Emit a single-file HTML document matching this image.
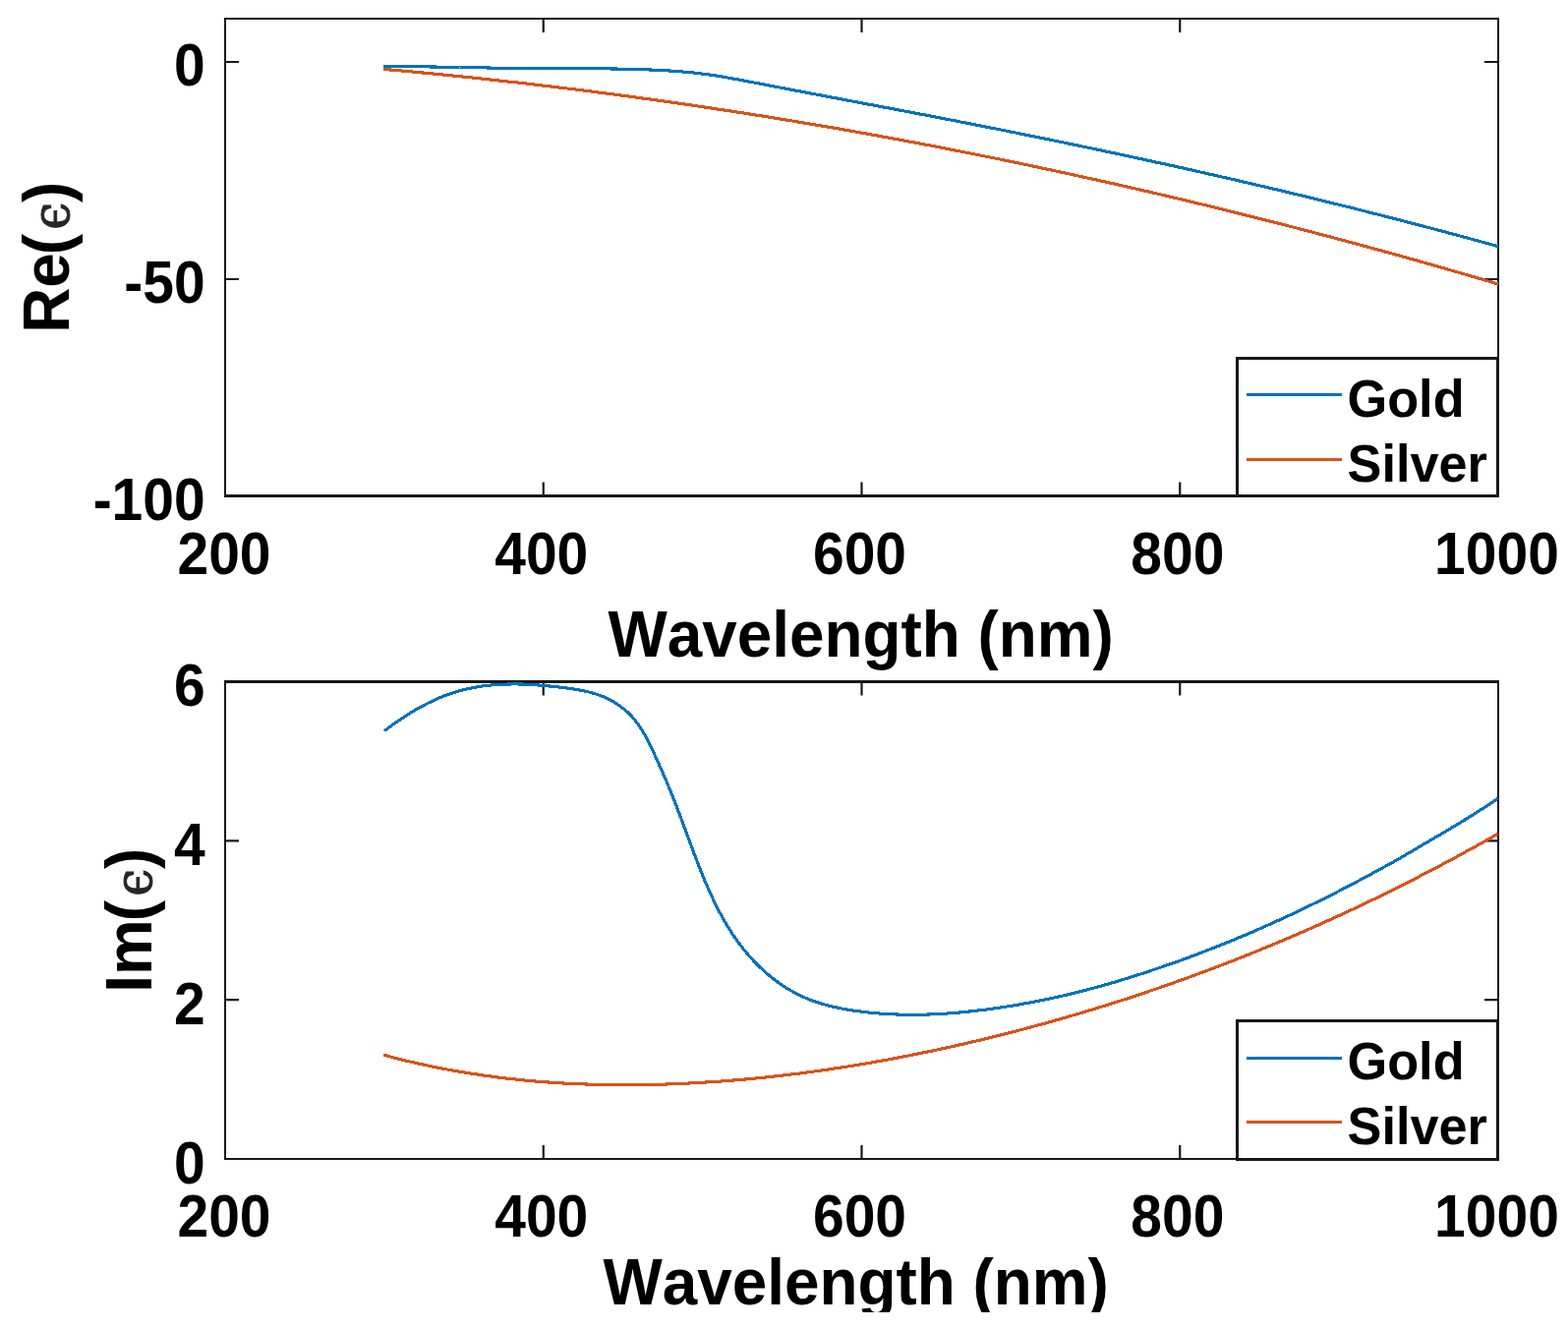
<!DOCTYPE html>
<html><head><meta charset="utf-8"><title>Permittivity of Gold and Silver</title>
<style>
html,body{margin:0;padding:0;background:#fff;overflow:hidden}
svg{display:block}
text{font-family:"Liberation Sans",Arial,Helvetica,sans-serif;font-weight:bold;fill:#000;font-kerning:none;font-feature-settings:"kern" 0,"liga" 0}
</style></head><body>
<svg width="1595" height="1352" viewBox="0 0 1595 1352">
<rect width="1595" height="1352" fill="#fff"/>
<path d="M552.75,504.50V490.50M552.75,19.00V33.00M876.50,504.50V490.50M876.50,19.00V33.00M1200.25,504.50V490.50M1200.25,19.00V33.00M229.0,63.00H243.0M1524.0,63.00H1510.0M229.0,284.00H243.0M1524.0,284.00H1510.0" stroke="#181818" stroke-width="2.2" fill="none"/>
<path d="M228.0,19.00H1525.0" stroke="#181818" stroke-width="2.0"/>
<path d="M228.0,504.50H1525.0" stroke="#181818" stroke-width="3.0"/>
<path d="M229.0,18.00V506.00M1524.0,18.00V506.00" stroke="#181818" stroke-width="2.0"/>
<clipPath id="c19"><rect x="229.0" y="19.0" width="1295.0" height="485.5"/></clipPath>
<g clip-path="url(#c19)"><path d="M390.0,67.6C391.6,67.6 396.5,67.6 399.7,67.6C402.9,67.6 406.2,67.6 409.4,67.6C412.6,67.7 415.9,67.7 419.1,67.7C422.3,67.8 425.6,67.8 428.8,67.8C432.0,67.9 435.2,67.9 438.5,68.0C441.7,68.0 444.9,68.1 448.2,68.1C451.4,68.2 454.6,68.2 457.9,68.3C461.1,68.3 464.3,68.4 467.5,68.5C470.8,68.5 474.0,68.6 477.2,68.6C480.5,68.7 483.7,68.8 486.9,68.8C490.1,68.9 493.4,68.9 496.6,69.0C499.8,69.1 503.1,69.1 506.3,69.2C509.5,69.2 512.8,69.3 516.0,69.3C519.2,69.4 522.4,69.4 525.7,69.4C528.9,69.5 532.1,69.5 535.4,69.5C538.6,69.6 541.8,69.6 545.1,69.6C548.3,69.6 551.5,69.7 554.8,69.7C558.0,69.7 561.2,69.7 564.5,69.7C567.7,69.7 570.9,69.7 574.2,69.7C577.4,69.7 580.6,69.7 583.9,69.7C587.1,69.7 590.3,69.7 593.6,69.8C596.8,69.8 600.0,69.8 603.3,69.8C606.5,69.8 609.7,69.8 613.0,69.9C616.2,69.9 619.4,69.9 622.7,70.0C625.9,70.0 629.1,70.1 632.3,70.1C635.6,70.2 638.8,70.3 642.0,70.3C645.3,70.4 648.5,70.5 651.7,70.6C655.0,70.7 658.2,70.8 661.4,71.0C664.6,71.1 667.9,71.2 671.1,71.4C674.3,71.6 677.5,71.8 680.8,72.0C684.0,72.2 687.2,72.4 690.4,72.7C693.6,72.9 696.9,73.2 700.1,73.5C703.3,73.8 706.5,74.1 709.7,74.5C712.9,74.9 716.1,75.3 719.3,75.7C722.5,76.2 725.7,76.6 728.9,77.1C732.1,77.6 735.2,78.2 738.4,78.7C741.6,79.3 744.8,79.8 748.0,80.4C751.2,81.0 754.3,81.6 757.5,82.2C760.7,82.8 763.9,83.4 767.0,84.0C770.2,84.6 773.4,85.2 776.6,85.9C779.7,86.5 782.9,87.1 786.1,87.7C789.3,88.3 792.4,88.9 795.6,89.5C798.8,90.1 801.9,90.7 805.1,91.3C808.3,91.9 811.5,92.5 814.6,93.1C817.8,93.7 821.0,94.3 824.2,94.9C827.3,95.5 830.5,96.1 833.7,96.7C836.9,97.3 840.0,97.9 843.2,98.5C846.4,99.1 849.6,99.7 852.7,100.3C855.9,100.9 859.1,101.5 862.3,102.1C865.4,102.7 868.6,103.3 871.8,103.9C875.0,104.5 878.1,105.1 881.3,105.7C884.5,106.3 887.7,106.9 890.8,107.5C894.0,108.1 897.2,108.7 900.4,109.3C903.5,109.9 906.7,110.5 909.9,111.1C913.1,111.7 916.2,112.3 919.4,112.9C922.6,113.5 925.7,114.1 928.9,114.7C932.1,115.3 935.3,115.9 938.4,116.5C941.6,117.1 944.8,117.7 948.0,118.3C951.1,118.9 954.3,119.5 957.5,120.2C960.6,120.8 963.8,121.4 967.0,122.0C970.2,122.6 973.3,123.2 976.5,123.9C979.7,124.5 982.8,125.1 986.0,125.7C989.2,126.3 992.3,127.0 995.5,127.6C998.7,128.2 1001.9,128.8 1005.0,129.5C1008.2,130.1 1011.4,130.7 1014.5,131.3C1017.7,132.0 1020.9,132.6 1024.0,133.2C1027.2,133.9 1030.4,134.5 1033.5,135.1C1036.7,135.8 1039.9,136.4 1043.0,137.1C1046.2,137.7 1049.4,138.3 1052.5,139.0C1055.7,139.6 1058.9,140.3 1062.0,140.9C1065.2,141.6 1068.4,142.2 1071.5,142.9C1074.7,143.5 1077.9,144.2 1081.0,144.8C1084.2,145.5 1087.3,146.1 1090.5,146.8C1093.7,147.4 1096.8,148.1 1100.0,148.8C1103.2,149.4 1106.3,150.1 1109.5,150.7C1112.6,151.4 1115.8,152.1 1119.0,152.7C1122.1,153.4 1125.3,154.1 1128.4,154.8C1131.6,155.4 1134.8,156.1 1137.9,156.8C1141.1,157.4 1144.2,158.1 1147.4,158.8C1150.6,159.5 1153.7,160.2 1156.9,160.8C1160.0,161.5 1163.2,162.2 1166.3,162.9C1169.5,163.6 1172.7,164.3 1175.8,165.0C1179.0,165.7 1182.1,166.4 1185.3,167.0C1188.4,167.7 1191.6,168.4 1194.7,169.1C1197.9,169.8 1201.1,170.5 1204.2,171.2C1207.4,171.9 1210.5,172.6 1213.7,173.3C1216.8,174.1 1220.0,174.8 1223.1,175.5C1226.3,176.2 1229.4,176.9 1232.6,177.6C1235.7,178.3 1238.9,179.0 1242.0,179.8C1245.2,180.5 1248.3,181.2 1251.5,181.9C1254.6,182.7 1257.8,183.4 1260.9,184.1C1264.1,184.8 1267.2,185.6 1270.3,186.3C1273.5,187.0 1276.6,187.8 1279.8,188.5C1282.9,189.2 1286.1,190.0 1289.2,190.7C1292.4,191.4 1295.5,192.2 1298.7,192.9C1301.8,193.7 1304.9,194.4 1308.1,195.2C1311.2,195.9 1314.4,196.7 1317.5,197.4C1320.6,198.2 1323.8,198.9 1326.9,199.7C1330.1,200.5 1333.2,201.2 1336.3,202.0C1339.5,202.7 1342.6,203.5 1345.8,204.3C1348.9,205.0 1352.0,205.8 1355.2,206.6C1358.3,207.4 1361.4,208.1 1364.6,208.9C1367.7,209.7 1370.8,210.5 1374.0,211.2C1377.1,212.0 1380.3,212.8 1383.4,213.6C1386.5,214.4 1389.7,215.2 1392.8,216.0C1395.9,216.8 1399.0,217.5 1402.2,218.3C1405.3,219.1 1408.4,219.9 1411.6,220.7C1414.7,221.5 1417.8,222.3 1421.0,223.1C1424.1,224.0 1427.2,224.8 1430.3,225.6C1433.5,226.4 1436.6,227.2 1439.7,228.0C1442.8,228.8 1446.0,229.6 1449.1,230.5C1452.2,231.3 1455.3,232.1 1458.5,232.9C1461.6,233.8 1464.7,234.6 1467.8,235.4C1471.0,236.2 1474.1,237.1 1477.2,237.9C1480.3,238.8 1483.4,239.6 1486.6,240.4C1489.7,241.3 1492.8,242.1 1495.9,243.0C1499.0,243.8 1502.1,244.7 1505.3,245.5C1508.4,246.4 1511.5,247.2 1514.6,248.1C1517.7,248.9 1522.4,250.2 1524.0,250.7" fill="none" stroke="#0072BD" stroke-width="3.1" stroke-linejoin="round" shape-rendering="crispEdges"/><path d="M390.0,70.4C391.6,70.5 396.5,71.0 399.7,71.2C402.9,71.5 406.2,71.8 409.4,72.1C412.6,72.4 415.8,72.7 419.1,73.0C422.3,73.3 425.5,73.6 428.7,73.9C432.0,74.2 435.2,74.5 438.4,74.8C441.6,75.1 444.9,75.5 448.1,75.8C451.3,76.1 454.5,76.4 457.8,76.7C461.0,77.1 464.2,77.4 467.4,77.7C470.7,78.0 473.9,78.4 477.1,78.7C480.3,79.0 483.6,79.4 486.8,79.7C490.0,80.1 493.2,80.4 496.5,80.8C499.7,81.1 502.9,81.4 506.1,81.8C509.3,82.2 512.6,82.5 515.8,82.9C519.0,83.2 522.2,83.6 525.4,83.9C528.7,84.3 531.9,84.7 535.1,85.0C538.3,85.4 541.5,85.8 544.8,86.2C548.0,86.5 551.2,86.9 554.4,87.3C557.6,87.7 560.8,88.1 564.1,88.5C567.3,88.8 570.5,89.2 573.7,89.6C576.9,90.0 580.1,90.4 583.4,90.8C586.6,91.2 589.8,91.6 593.0,92.0C596.2,92.4 599.4,92.8 602.7,93.2C605.9,93.6 609.1,94.1 612.3,94.5C615.5,94.9 618.7,95.3 621.9,95.7C625.2,96.2 628.4,96.6 631.6,97.0C634.8,97.4 638.0,97.9 641.2,98.3C644.4,98.7 647.6,99.2 650.8,99.6C654.1,100.0 657.3,100.5 660.5,100.9C663.7,101.4 666.9,101.8 670.1,102.3C673.3,102.7 676.5,103.2 679.7,103.6C682.9,104.1 686.1,104.5 689.4,105.0C692.6,105.5 695.8,105.9 699.0,106.4C702.2,106.9 705.4,107.3 708.6,107.8C711.8,108.3 715.0,108.8 718.2,109.2C721.4,109.7 724.6,110.2 727.8,110.7C731.0,111.2 734.2,111.6 737.4,112.1C740.6,112.6 743.8,113.1 747.1,113.6C750.3,114.1 753.5,114.6 756.7,115.1C759.9,115.6 763.1,116.1 766.3,116.6C769.5,117.1 772.7,117.6 775.9,118.1C779.1,118.6 782.3,119.2 785.5,119.7C788.7,120.2 791.9,120.7 795.1,121.2C798.3,121.8 801.5,122.3 804.7,122.8C807.9,123.3 811.0,123.9 814.2,124.4C817.4,124.9 820.6,125.5 823.8,126.0C827.0,126.6 830.2,127.1 833.4,127.6C836.6,128.2 839.8,128.7 843.0,129.3C846.2,129.8 849.4,130.4 852.6,130.9C855.8,131.5 859.0,132.1 862.2,132.6C865.4,133.2 868.5,133.7 871.7,134.3C874.9,134.9 878.1,135.5 881.3,136.0C884.5,136.6 887.7,137.2 890.9,137.7C894.1,138.3 897.3,138.9 900.4,139.5C903.6,140.1 906.8,140.7 910.0,141.2C913.2,141.8 916.4,142.4 919.6,143.0C922.8,143.6 925.9,144.2 929.1,144.8C932.3,145.4 935.5,146.0 938.7,146.6C941.9,147.2 945.0,147.8 948.2,148.4C951.4,149.1 954.6,149.7 957.8,150.3C961.0,150.9 964.1,151.5 967.3,152.1C970.5,152.8 973.7,153.4 976.9,154.0C980.0,154.6 983.2,155.3 986.4,155.9C989.6,156.5 992.8,157.2 995.9,157.8C999.1,158.4 1002.3,159.1 1005.5,159.7C1008.6,160.4 1011.8,161.0 1015.0,161.6C1018.2,162.3 1021.3,162.9 1024.5,163.6C1027.7,164.2 1030.9,164.9 1034.0,165.6C1037.2,166.2 1040.4,166.9 1043.6,167.5C1046.7,168.2 1049.9,168.9 1053.1,169.5C1056.3,170.2 1059.4,170.9 1062.6,171.6C1065.8,172.2 1068.9,172.9 1072.1,173.6C1075.3,174.3 1078.4,174.9 1081.6,175.6C1084.8,176.3 1087.9,177.0 1091.1,177.7C1094.3,178.4 1097.4,179.1 1100.6,179.8C1103.8,180.5 1106.9,181.2 1110.1,181.9C1113.3,182.6 1116.4,183.3 1119.6,184.0C1122.8,184.7 1125.9,185.4 1129.1,186.1C1132.2,186.8 1135.4,187.5 1138.6,188.2C1141.7,189.0 1144.9,189.7 1148.0,190.4C1151.2,191.1 1154.4,191.8 1157.5,192.6C1160.7,193.3 1163.8,194.0 1167.0,194.7C1170.2,195.5 1173.3,196.2 1176.5,196.9C1179.6,197.7 1182.8,198.4 1185.9,199.2C1189.1,199.9 1192.2,200.7 1195.4,201.4C1198.6,202.1 1201.7,202.9 1204.9,203.6C1208.0,204.4 1211.2,205.2 1214.3,205.9C1217.5,206.7 1220.6,207.4 1223.8,208.2C1226.9,208.9 1230.1,209.7 1233.2,210.5C1236.4,211.2 1239.5,212.0 1242.7,212.8C1245.8,213.6 1249.0,214.3 1252.1,215.1C1255.2,215.9 1258.4,216.7 1261.5,217.5C1264.7,218.2 1267.8,219.0 1271.0,219.8C1274.1,220.6 1277.3,221.4 1280.4,222.2C1283.5,223.0 1286.7,223.8 1289.8,224.6C1293.0,225.4 1296.1,226.2 1299.2,227.0C1302.4,227.8 1305.5,228.6 1308.7,229.4C1311.8,230.2 1314.9,231.0 1318.1,231.8C1321.2,232.6 1324.3,233.4 1327.5,234.2C1330.6,235.1 1333.8,235.9 1336.9,236.7C1340.0,237.5 1343.2,238.4 1346.3,239.2C1349.4,240.0 1352.6,240.8 1355.7,241.7C1358.8,242.5 1361.9,243.3 1365.1,244.2C1368.2,245.0 1371.3,245.9 1374.5,246.7C1377.6,247.5 1380.7,248.4 1383.8,249.2C1387.0,250.1 1390.1,250.9 1393.2,251.8C1396.4,252.6 1399.5,253.5 1402.6,254.3C1405.7,255.2 1408.9,256.1 1412.0,256.9C1415.1,257.8 1418.2,258.6 1421.3,259.5C1424.5,260.4 1427.6,261.2 1430.7,262.1C1433.8,263.0 1436.9,263.9 1440.1,264.7C1443.2,265.6 1446.3,266.5 1449.4,267.4C1452.5,268.3 1455.6,269.1 1458.8,270.0C1461.9,270.9 1465.0,271.8 1468.1,272.7C1471.2,273.6 1474.3,274.5 1477.4,275.4C1480.6,276.3 1483.7,277.2 1486.8,278.1C1489.9,279.0 1493.0,279.9 1496.1,280.8C1499.2,281.7 1502.3,282.6 1505.4,283.5C1508.6,284.4 1511.7,285.3 1514.8,286.2C1517.9,287.2 1522.5,288.5 1524.1,289.0" fill="none" stroke="#D95319" stroke-width="3.1" stroke-linejoin="round" shape-rendering="crispEdges"/></g>
<text transform="translate(228.00,584.00) scale(1,1.063)" font-size="57.0" text-anchor="middle">200</text>
<text transform="translate(550.75,584.00) scale(1,1.063)" font-size="57.0" text-anchor="middle">400</text>
<text transform="translate(874.50,584.00) scale(1,1.063)" font-size="57.0" text-anchor="middle">600</text>
<text transform="translate(1197.85,584.00) scale(1,1.063)" font-size="57.0" text-anchor="middle">800</text>
<text transform="translate(1522.50,584.00) scale(1,1.063)" font-size="57.0" text-anchor="middle">1000</text>
<text transform="translate(208.70,86.80) scale(1,1.063)" font-size="57.0" text-anchor="end">0</text>
<text transform="translate(208.70,307.80) scale(1,1.063)" font-size="57.0" text-anchor="end">-50</text>
<text transform="translate(208.70,528.80) scale(1,1.063)" font-size="57.0" text-anchor="end">-100</text>
<text transform="translate(875.60,668.00) scale(1,1.05)" font-size="63.85" text-anchor="middle">Wavelength (nm)</text>
<text transform="translate(70.00,261.75) rotate(-90) scale(1,1.05)" font-size="63.85" text-anchor="middle">Re<tspan dx="-2.0">(</tspan><tspan dx="4.2" font-family="DejaVu Serif, serif" font-weight="normal" font-style="normal" font-size="50" fill="#262626" stroke="#262626" stroke-width="0.9">&#x3F5;</tspan><tspan dx="-0.2">)</tspan></text>
<rect x="1258.5" y="364.5" width="265.0" height="140.00" fill="#fff" stroke="#181818" stroke-width="3.0"/>
<path d="M1268,401.50H1365" stroke="#0072BD" stroke-width="3" shape-rendering="crispEdges"/>
<path d="M1268,467.50H1365" stroke="#D95319" stroke-width="3" shape-rendering="crispEdges"/>
<text transform="translate(1370.50,424.00) scale(1,1.02)" font-size="52.3" text-anchor="start">Gold</text>
<text transform="translate(1370.50,490.20) scale(1,1.02)" font-size="52.3" text-anchor="start">Silver</text>
<path d="M552.75,1179.00V1165.00M552.75,693.50V707.50M876.50,1179.00V1165.00M876.50,693.50V707.50M1200.25,1179.00V1165.00M1200.25,693.50V707.50M229.0,1017.16H243.0M1524.0,1017.16H1510.0M229.0,855.32H243.0M1524.0,855.32H1510.0" stroke="#181818" stroke-width="2.2" fill="none"/>
<path d="M228.0,693.50H1525.0" stroke="#181818" stroke-width="3.0"/>
<path d="M228.0,1179.00H1525.0" stroke="#181818" stroke-width="2.0"/>
<path d="M229.0,692.00V1180.00M1524.0,692.00V1180.00" stroke="#181818" stroke-width="2.0"/>
<clipPath id="c693"><rect x="229.0" y="693.5" width="1295.0" height="485.5"/></clipPath>
<g clip-path="url(#c693)"><path d="M391.0,743.6C392.5,742.5 397.1,739.0 400.2,736.8C403.3,734.6 406.4,732.4 409.7,730.3C412.9,728.2 416.1,726.1 419.4,724.1C422.7,722.1 426.1,720.2 429.4,718.4C432.8,716.6 436.3,714.8 439.8,713.2C443.2,711.6 446.8,710.0 450.3,708.6C453.9,707.2 457.5,705.9 461.1,704.7C464.8,703.6 468.5,702.5 472.2,701.6C475.9,700.7 479.7,699.9 483.4,699.2C487.2,698.5 491.0,698.0 494.8,697.5C498.7,697.1 502.5,696.7 506.3,696.5C510.2,696.2 514.0,696.1 517.9,696.0C521.7,695.9 525.5,695.9 529.4,696.0C533.2,696.1 537.0,696.3 540.8,696.5C544.6,696.7 548.5,697.0 552.3,697.4C556.1,697.7 559.9,698.1 563.7,698.5C567.5,698.9 571.4,699.3 575.2,699.8C579.0,700.3 582.9,700.8 586.7,701.5C590.5,702.1 594.3,702.8 598.0,703.7C601.7,704.7 605.4,705.7 609.0,707.0C612.6,708.3 616.1,709.7 619.5,711.5C622.9,713.2 626.2,715.2 629.4,717.4C632.5,719.6 635.6,722.0 638.4,724.6C641.2,727.2 643.8,730.0 646.2,733.0C648.6,736.0 650.8,739.2 652.8,742.4C654.9,745.7 656.7,749.1 658.5,752.5C660.3,755.9 661.9,759.4 663.6,762.9C665.3,766.4 666.9,769.9 668.5,773.4C670.0,776.9 671.6,780.4 673.1,783.9C674.7,787.3 676.2,790.8 677.7,794.3C679.1,797.9 680.6,801.4 682.0,804.9C683.5,808.4 684.9,811.9 686.3,815.5C687.7,819.0 689.1,822.6 690.4,826.2C691.8,829.7 693.1,833.3 694.5,836.9C695.8,840.5 697.1,844.2 698.5,847.8C699.8,851.4 701.1,855.0 702.5,858.6C703.8,862.3 705.1,865.9 706.5,869.5C707.9,873.1 709.3,876.7 710.7,880.3C712.1,883.9 713.5,887.5 714.9,891.1C716.4,894.7 717.9,898.2 719.4,901.7C721.0,905.3 722.5,908.8 724.2,912.2C725.8,915.7 727.4,919.2 729.2,922.6C730.9,926.0 732.7,929.4 734.5,932.7C736.4,936.0 738.3,939.3 740.3,942.6C742.2,945.8 744.3,949.0 746.4,952.2C748.6,955.3 750.8,958.4 753.1,961.4C755.4,964.5 757.8,967.5 760.3,970.4C762.7,973.3 765.3,976.1 768.0,978.9C770.7,981.7 773.4,984.4 776.3,987.0C779.1,989.6 782.1,992.1 785.1,994.5C788.1,996.9 791.2,999.2 794.4,1001.4C797.5,1003.5 800.8,1005.6 804.1,1007.5C807.4,1009.4 810.8,1011.2 814.2,1012.9C817.7,1014.5 821.2,1016.0 824.8,1017.4C828.3,1018.7 832.0,1019.9 835.6,1021.0C839.3,1022.2 843.0,1023.1 846.7,1024.0C850.5,1024.9 854.3,1025.7 858.0,1026.4C861.8,1027.1 865.6,1027.7 869.5,1028.3C873.3,1028.8 877.1,1029.3 880.9,1029.7C884.7,1030.2 888.6,1030.5 892.4,1030.8C896.2,1031.2 900.1,1031.4 903.9,1031.6C907.7,1031.8 911.5,1032.0 915.4,1032.1C919.2,1032.2 923.0,1032.3 926.9,1032.3C930.7,1032.3 934.5,1032.2 938.3,1032.2C942.2,1032.1 946.0,1032.0 949.8,1031.8C953.7,1031.6 957.5,1031.4 961.3,1031.2C965.1,1030.9 969.0,1030.6 972.8,1030.3C976.6,1030.0 980.4,1029.6 984.2,1029.2C988.1,1028.8 991.9,1028.4 995.7,1027.9C999.5,1027.5 1003.3,1027.0 1007.1,1026.5C1010.9,1026.0 1014.7,1025.4 1018.5,1024.8C1022.3,1024.3 1026.1,1023.7 1029.9,1023.1C1033.7,1022.4 1037.5,1021.8 1041.2,1021.1C1045.0,1020.4 1048.8,1019.7 1052.6,1019.0C1056.3,1018.3 1060.1,1017.5 1063.9,1016.7C1067.6,1016.0 1071.4,1015.2 1075.1,1014.3C1078.9,1013.5 1082.6,1012.6 1086.3,1011.8C1090.1,1010.9 1093.8,1010.0 1097.5,1009.0C1101.2,1008.1 1105.0,1007.1 1108.7,1006.1C1112.4,1005.2 1116.1,1004.2 1119.8,1003.1C1123.5,1002.1 1127.1,1001.0 1130.8,1000.0C1134.5,998.9 1138.2,997.8 1141.9,996.7C1145.5,995.6 1149.2,994.4 1152.8,993.3C1156.5,992.1 1160.2,991.0 1163.8,989.8C1167.4,988.6 1171.1,987.4 1174.7,986.1C1178.4,984.9 1182.0,983.7 1185.6,982.4C1189.2,981.2 1192.9,979.9 1196.5,978.6C1200.1,977.3 1203.7,976.0 1207.3,974.7C1210.9,973.4 1214.5,972.0 1218.1,970.7C1221.7,969.3 1225.2,967.9 1228.8,966.5C1232.4,965.2 1236.0,963.8 1239.5,962.3C1243.1,960.9 1246.7,959.5 1250.2,958.0C1253.8,956.6 1257.3,955.1 1260.9,953.6C1264.4,952.2 1267.9,950.7 1271.5,949.2C1275.0,947.6 1278.5,946.1 1282.0,944.6C1285.5,943.0 1289.0,941.5 1292.5,939.9C1296.0,938.3 1299.5,936.8 1303.0,935.2C1306.5,933.6 1310.0,932.0 1313.5,930.3C1316.9,928.7 1320.4,927.1 1323.9,925.4C1327.3,923.8 1330.8,922.1 1334.2,920.4C1337.7,918.7 1341.1,917.0 1344.6,915.3C1348.0,913.6 1351.4,911.9 1354.8,910.2C1358.3,908.4 1361.7,906.7 1365.1,904.9C1368.5,903.2 1371.9,901.4 1375.3,899.6C1378.7,897.8 1382.0,896.0 1385.4,894.2C1388.8,892.4 1392.2,890.6 1395.5,888.8C1398.9,887.0 1402.3,885.2 1405.6,883.3C1409.0,881.5 1412.4,879.7 1415.7,877.8C1419.0,875.9 1422.3,874.0 1425.7,872.1C1429.0,870.2 1432.3,868.2 1435.6,866.3C1438.9,864.4 1442.2,862.4 1445.5,860.5C1448.8,858.5 1452.1,856.6 1455.4,854.7C1458.8,852.7 1462.1,850.8 1465.4,848.8C1468.7,846.9 1472.0,844.9 1475.3,842.9C1478.6,841.0 1481.8,839.0 1485.1,837.0C1488.4,835.0 1491.7,833.0 1494.9,831.0C1498.2,828.9 1501.5,826.9 1504.7,824.8C1507.9,822.8 1511.2,820.7 1514.4,818.6C1517.6,816.5 1522.4,813.3 1524.0,812.3" fill="none" stroke="#0072BD" stroke-width="3.1" stroke-linejoin="round" shape-rendering="crispEdges"/><path d="M390.1,1073.2C391.7,1073.6 396.6,1074.9 399.8,1075.8C403.0,1076.6 406.3,1077.4 409.5,1078.2C412.8,1079.0 416.0,1079.8 419.2,1080.5C422.5,1081.3 425.7,1082.0 429.0,1082.7C432.2,1083.4 435.5,1084.1 438.7,1084.8C442.0,1085.5 445.2,1086.1 448.5,1086.8C451.7,1087.4 455.0,1088.0 458.3,1088.6C461.5,1089.2 464.8,1089.8 468.1,1090.3C471.3,1090.9 474.6,1091.4 477.9,1091.9C481.1,1092.4 484.4,1092.9 487.7,1093.4C490.9,1093.9 494.2,1094.4 497.5,1094.8C500.8,1095.2 504.1,1095.7 507.3,1096.1C510.6,1096.5 513.9,1096.9 517.2,1097.3C520.5,1097.6 523.8,1098.0 527.0,1098.3C530.3,1098.7 533.6,1099.0 536.9,1099.3C540.2,1099.6 543.5,1099.9 546.8,1100.2C550.1,1100.4 553.4,1100.7 556.7,1100.9C560.0,1101.2 563.2,1101.4 566.5,1101.6C569.8,1101.8 573.1,1102.0 576.4,1102.2C579.7,1102.3 583.0,1102.5 586.3,1102.6C589.6,1102.8 592.9,1102.9 596.2,1103.0C599.5,1103.1 602.8,1103.2 606.1,1103.3C609.4,1103.4 612.8,1103.5 616.1,1103.5C619.4,1103.6 622.7,1103.6 626.0,1103.7C629.3,1103.7 632.6,1103.7 635.9,1103.7C639.2,1103.7 642.5,1103.7 645.8,1103.7C649.1,1103.6 652.4,1103.6 655.7,1103.5C659.0,1103.5 662.3,1103.4 665.6,1103.3C668.9,1103.3 672.2,1103.2 675.6,1103.1C678.9,1103.0 682.2,1102.8 685.5,1102.7C688.8,1102.6 692.1,1102.4 695.4,1102.3C698.7,1102.1 702.0,1102.0 705.3,1101.8C708.6,1101.6 711.9,1101.4 715.2,1101.2C718.5,1101.0 721.8,1100.8 725.1,1100.6C728.4,1100.4 731.7,1100.1 735.0,1099.9C738.3,1099.6 741.6,1099.4 744.9,1099.1C748.2,1098.8 751.5,1098.6 754.8,1098.3C758.1,1098.0 761.4,1097.7 764.7,1097.4C768.0,1097.1 771.3,1096.7 774.6,1096.4C777.9,1096.1 781.2,1095.7 784.5,1095.4C787.8,1095.0 791.1,1094.6 794.3,1094.3C797.6,1093.9 800.9,1093.5 804.2,1093.1C807.5,1092.7 810.8,1092.3 814.1,1091.9C817.4,1091.4 820.7,1091.0 823.9,1090.6C827.2,1090.1 830.5,1089.7 833.8,1089.2C837.1,1088.8 840.3,1088.3 843.6,1087.8C846.9,1087.3 850.2,1086.8 853.5,1086.3C856.7,1085.8 860.0,1085.3 863.3,1084.8C866.6,1084.3 869.8,1083.8 873.1,1083.2C876.4,1082.7 879.6,1082.1 882.9,1081.6C886.2,1081.0 889.4,1080.4 892.7,1079.8C896.0,1079.3 899.2,1078.7 902.5,1078.1C905.8,1077.5 909.0,1076.9 912.3,1076.3C915.5,1075.6 918.8,1075.0 922.0,1074.4C925.3,1073.7 928.5,1073.1 931.8,1072.4C935.0,1071.8 938.3,1071.1 941.5,1070.5C944.8,1069.8 948.0,1069.1 951.3,1068.4C954.5,1067.7 957.8,1067.0 961.0,1066.3C964.2,1065.6 967.5,1064.9 970.7,1064.2C973.9,1063.4 977.2,1062.7 980.4,1062.0C983.6,1061.2 986.9,1060.5 990.1,1059.7C993.3,1058.9 996.5,1058.2 999.8,1057.4C1003.0,1056.6 1006.2,1055.8 1009.4,1055.1C1012.6,1054.3 1015.8,1053.5 1019.1,1052.7C1022.3,1051.8 1025.5,1051.0 1028.7,1050.2C1031.9,1049.4 1035.1,1048.5 1038.3,1047.7C1041.5,1046.9 1044.7,1046.0 1047.9,1045.1C1051.1,1044.3 1054.3,1043.4 1057.5,1042.6C1060.7,1041.7 1063.9,1040.8 1067.1,1039.9C1070.2,1039.0 1073.4,1038.1 1076.6,1037.2C1079.8,1036.3 1083.0,1035.4 1086.2,1034.5C1089.3,1033.5 1092.5,1032.6 1095.7,1031.7C1098.9,1030.7 1102.0,1029.8 1105.2,1028.8C1108.4,1027.9 1111.5,1026.9 1114.7,1025.9C1117.8,1025.0 1121.0,1024.0 1124.2,1023.0C1127.3,1022.0 1130.5,1021.0 1133.6,1020.0C1136.8,1019.0 1139.9,1018.0 1143.1,1017.0C1146.2,1016.0 1149.4,1015.0 1152.5,1013.9C1155.6,1012.9 1158.8,1011.8 1161.9,1010.8C1165.1,1009.7 1168.2,1008.7 1171.3,1007.6C1174.4,1006.6 1177.6,1005.5 1180.7,1004.4C1183.8,1003.3 1186.9,1002.2 1190.1,1001.1C1193.2,1000.0 1196.3,998.9 1199.4,997.8C1202.5,996.7 1205.6,995.6 1208.7,994.5C1211.9,993.3 1215.0,992.2 1218.1,991.0C1221.2,989.9 1224.3,988.8 1227.4,987.6C1230.5,986.4 1233.5,985.3 1236.6,984.1C1239.7,982.9 1242.8,981.7 1245.9,980.5C1249.0,979.4 1252.1,978.2 1255.1,977.0C1258.2,975.7 1261.3,974.5 1264.4,973.3C1267.4,972.1 1270.5,970.9 1273.6,969.6C1276.6,968.4 1279.7,967.1 1282.8,965.9C1285.8,964.6 1288.9,963.4 1291.9,962.1C1295.0,960.9 1298.1,959.6 1301.1,958.3C1304.2,957.0 1307.2,955.7 1310.2,954.4C1313.3,953.1 1316.3,951.8 1319.4,950.5C1322.4,949.2 1325.4,947.9 1328.5,946.6C1331.5,945.2 1334.5,943.9 1337.5,942.6C1340.6,941.2 1343.6,939.9 1346.6,938.5C1349.6,937.1 1352.6,935.8 1355.6,934.4C1358.7,933.0 1361.7,931.7 1364.7,930.3C1367.7,928.9 1370.7,927.5 1373.7,926.1C1376.7,924.7 1379.7,923.3 1382.7,921.9C1385.6,920.4 1388.6,919.0 1391.6,917.6C1394.6,916.2 1397.6,914.7 1400.6,913.3C1403.5,911.8 1406.5,910.4 1409.5,908.9C1412.5,907.5 1415.4,906.0 1418.4,904.5C1421.4,903.0 1424.3,901.6 1427.3,900.1C1430.2,898.6 1433.2,897.1 1436.2,895.6C1439.1,894.1 1442.1,892.6 1445.0,891.0C1447.9,889.5 1450.9,888.0 1453.8,886.5C1456.8,884.9 1459.7,883.4 1462.6,881.8C1465.6,880.3 1468.5,878.7 1471.4,877.2C1474.3,875.6 1477.2,874.0 1480.2,872.5C1483.1,870.9 1486.0,869.3 1488.9,867.7C1491.8,866.1 1494.7,864.5 1497.6,862.9C1500.5,861.3 1503.4,859.7 1506.3,858.1C1509.2,856.5 1512.1,854.8 1515.0,853.2C1517.9,851.6 1522.2,849.1 1523.7,848.3" fill="none" stroke="#D95319" stroke-width="3.1" stroke-linejoin="round" shape-rendering="crispEdges"/></g>
<text transform="translate(228.00,1258.00) scale(1,1.063)" font-size="57.0" text-anchor="middle">200</text>
<text transform="translate(550.75,1258.00) scale(1,1.063)" font-size="57.0" text-anchor="middle">400</text>
<text transform="translate(874.50,1258.00) scale(1,1.063)" font-size="57.0" text-anchor="middle">600</text>
<text transform="translate(1197.85,1258.00) scale(1,1.063)" font-size="57.0" text-anchor="middle">800</text>
<text transform="translate(1522.50,1258.00) scale(1,1.063)" font-size="57.0" text-anchor="middle">1000</text>
<text transform="translate(208.70,1203.50) scale(1,1.063)" font-size="57.0" text-anchor="end">0</text>
<text transform="translate(208.70,1041.66) scale(1,1.063)" font-size="57.0" text-anchor="end">2</text>
<text transform="translate(208.70,879.82) scale(1,1.063)" font-size="57.0" text-anchor="end">4</text>
<text transform="translate(208.70,717.98) scale(1,1.063)" font-size="57.0" text-anchor="end">6</text>
<text transform="translate(870.60,1327.00) scale(1,1.05)" font-size="63.85" text-anchor="middle">Wavelength (nm)</text>
<text transform="translate(154.00,936.25) rotate(-90) scale(1,1.05)" font-size="63.85" text-anchor="middle">Im<tspan dx="-2.0">(</tspan><tspan dx="4.2" font-family="DejaVu Serif, serif" font-weight="normal" font-style="normal" font-size="50" fill="#262626" stroke="#262626" stroke-width="0.9">&#x3F5;</tspan><tspan dx="-0.2">)</tspan></text>
<rect x="1258.5" y="1038.5" width="265.0" height="141.00" fill="#fff" stroke="#181818" stroke-width="3.0"/>
<path d="M1268,1076.50H1365" stroke="#0072BD" stroke-width="3" shape-rendering="crispEdges"/>
<path d="M1268,1141.50H1365" stroke="#D95319" stroke-width="3" shape-rendering="crispEdges"/>
<text transform="translate(1370.50,1098.00) scale(1,1.02)" font-size="52.3" text-anchor="start">Gold</text>
<text transform="translate(1370.50,1164.20) scale(1,1.02)" font-size="52.3" text-anchor="start">Silver</text>
<rect x="0" y="1335" width="1595" height="17" fill="#fff"/>
</svg>
</body></html>
